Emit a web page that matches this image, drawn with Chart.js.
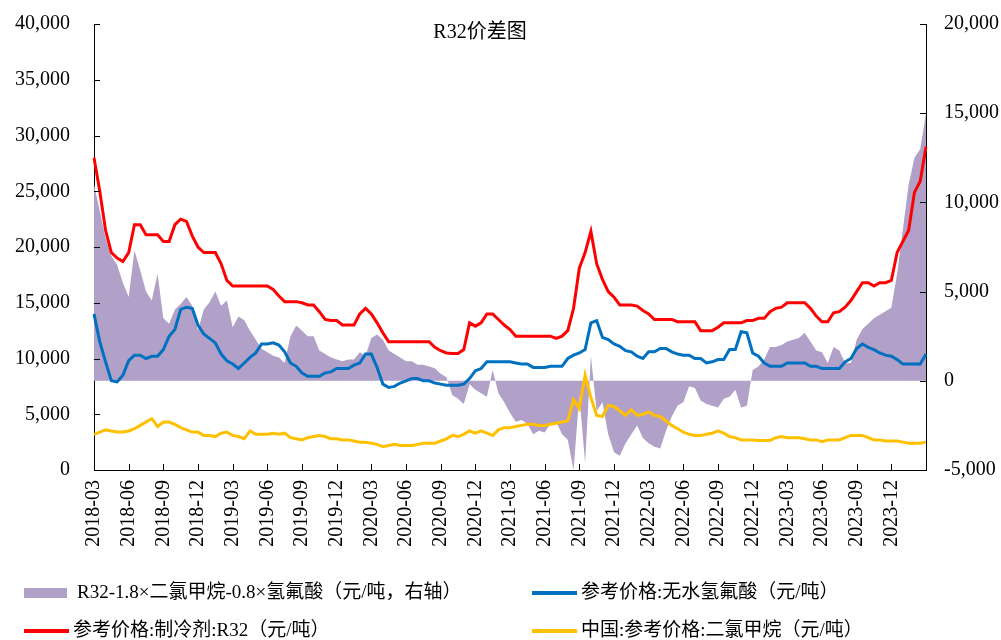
<!DOCTYPE html>
<html>
<head>
<meta charset="utf-8">
<script src="https://cdn.jsdelivr.net/npm/chart.js@4.4.1/dist/chart.umd.min.js"></script>
<style>
  html, body { margin: 0; padding: 0; background: #fff; }
  #wrap { width: 1001px; height: 640px; }
</style>
</head>
<body>
<div id="wrap"><canvas id="grafico" width="1001" height="640"></canvas></div>
<script>
// half-month points from 2018-03 to 2024-03
const startYear = 2018, startMonth = 3, pointCount = 145;
const categorias = [];
for (let i = 0; i < pointCount; i++) {
    const m = startMonth - 1 + Math.floor(i / 2);
    const ano = startYear + Math.floor(m / 12);
    const mes = String(m % 12 + 1).padStart(2, '0');
    categorias.push(`${ano}-${mes}-${i % 2 === 0 ? '01' : '16'}`);
}

const nomes = [
    'R32-1.8×二氯甲烷-0.8×氢氟酸（元/吨，右轴）',
    '参考价格:无水氢氟酸（元/吨）',
    '参考价格:制冷剂:R32（元/吨）',
    '中国:参考价格:二氯甲烷（元/吨）'
];

// spread, right axis
const spread = [
    11000, 9500, 8000, 7000, 6500, 5500, 4700, 7300, 6200, 5000,
    4500, 6000, 3500, 3200, 4000, 4300, 4700, 4200, 2800, 4000,
    4400, 5000, 4200, 4500, 3000, 3600, 3400, 2800, 2300, 1800,
    1600, 1400, 1300, 1000, 2500, 3100, 2800, 2500, 2500, 1700,
    1500, 1300, 1200, 1100, 1200, 1200, 1600, 1400, 2400, 2600,
    2300, 1700, 1500, 1300, 1100, 1100, 900, 900, 800, 700,
    400, 200, -800, -1000, -1300, -200, -500, -700, -900, 600,
    -700, -1200, -1800, -2300, -2200, -2400, -3000, -2800, -2900, -2400,
    -2300, -3000, -3300, -5000, -800, -4600, 1400, -1700, -1200, -3000,
    -4000, -4200, -3500, -3000, -2500, -3200, -3500, -3700, -3800, -2800,
    -2000, -1400, -1200, -300, -400, -1100, -1300, -1400, -1500, -1000,
    -900, -500, -1500, -1400, 600, 800, 1200, 1900, 1900, 2000,
    2200, 2300, 2400, 2700, 2200, 1700, 1600, 1000, 1900, 1700,
    1000, 1000, 2300, 2900, 3200, 3500, 3700, 3900, 4100, 6000,
    8500, 11000, 12500, 13000, 15000
];

const hf = [
    14000, 11500, 9700, 8000, 7900, 8500, 9800, 10300, 10300, 10000,
    10200, 10200, 10800, 12000, 12600, 14400, 14600, 14500, 13000, 12200,
    11800, 11400, 10400, 9800, 9500, 9100, 9600, 10100, 10500, 11300,
    11300, 11400, 11200, 10600, 9600, 9300, 8700, 8400, 8400, 8400,
    8700, 8800, 9100, 9100, 9100, 9400, 9600, 10400, 10400, 9200,
    7700, 7400, 7500, 7800, 8000, 8200, 8200, 8000, 8000, 7800,
    7700, 7600, 7600, 7600, 7700, 8200, 8900, 9100, 9700, 9700,
    9700, 9700, 9700, 9600, 9500, 9500, 9200, 9200, 9200, 9300,
    9300, 9300, 10000, 10300, 10500, 10800, 13200, 13400, 11900, 11700,
    11300, 11100, 10700, 10600, 10200, 10000, 10600, 10600, 10900, 10900,
    10600, 10400, 10300, 10300, 10000, 10000, 9600, 9700, 9900, 9900,
    10800, 10800, 12400, 12300, 10500, 10200, 9600, 9300, 9300, 9300,
    9600, 9600, 9600, 9600, 9300, 9300, 9100, 9100, 9100, 9100,
    9700, 10000, 10900, 11300, 11000, 10800, 10500, 10300, 10200, 9900,
    9500, 9500, 9500, 9500, 10400
];

const r32 = [
    28000, 25000, 21500, 19500, 19000, 18700, 19500, 22000, 22000, 21100,
    21100, 21100, 20500, 20500, 22000, 22500, 22300, 21000, 20000, 19500,
    19500, 19500, 18500, 17000, 16500, 16500, 16500, 16500, 16500, 16500,
    16500, 16200, 15600, 15100, 15100, 15100, 15000, 14800, 14800, 14200,
    13500, 13400, 13400, 13000, 13000, 13000, 14000, 14500, 14000, 13200,
    12300, 11500, 11500, 11500, 11500, 11500, 11500, 11500, 11500, 11000,
    10700, 10500, 10450, 10450, 10800, 13200, 12900, 13200, 14000, 14000,
    13500, 13000, 12600, 12000, 12000, 12000, 12000, 12000, 12000, 12000,
    11800, 12000, 12500, 14500, 18100, 19500, 21400, 18500, 17100, 16000,
    15500, 14800, 14800, 14800, 14700, 14300, 14000, 13500, 13500, 13500,
    13500, 13300, 13300, 13300, 13300, 12500, 12500, 12500, 12800, 13200,
    13200, 13200, 13200, 13400, 13400, 13600, 13600, 14200, 14500, 14600,
    15000, 15000, 15000, 15000, 14500, 13800, 13300, 13300, 14100, 14200,
    14600, 15200, 16000, 16800, 16800, 16500, 16800, 16800, 17000, 19500,
    20500, 21500, 24900, 25900, 29000
];

const dcm = [
    3200, 3400, 3600, 3500, 3400, 3400, 3500, 3700, 4000, 4300,
    4600, 3900, 4300, 4300, 4100, 3800, 3600, 3400, 3400, 3100,
    3100, 3000, 3300, 3400, 3100, 3000, 2800, 3500, 3200, 3200,
    3200, 3300, 3200, 3300, 2900, 2800, 2700, 2900, 3000, 3100,
    3000, 2800, 2800, 2700, 2700, 2600, 2500, 2500, 2400, 2300,
    2100, 2200, 2300, 2200, 2200, 2200, 2300, 2400, 2400, 2400,
    2600, 2800, 3100, 3000, 3200, 3500, 3300, 3500, 3300, 3100,
    3600, 3800, 3800, 3900, 4000, 4100, 4100, 4000, 4000, 4100,
    4200, 4300, 4400, 6300, 5500, 8500, 6500, 4900, 4800, 5800,
    5700, 5300, 4900, 5400, 4900, 5000, 5200, 4900, 4800, 4400,
    4000, 3700, 3400, 3200, 3100, 3100, 3200, 3300, 3500, 3300,
    3000, 2900, 2700, 2700, 2700, 2650, 2650, 2650, 2900, 3000,
    2900, 2900, 2900, 2800, 2700, 2700, 2550, 2700, 2700, 2700,
    2900, 3100, 3100, 3100, 2900, 2700, 2700, 2600, 2600, 2600,
    2500, 2400, 2400, 2400, 2500
];

const leftTicks = { min: 0, max: 40000, step: 5000 };
const rightTicks = { min: -5000, max: 20000, step: 5000 };

const fonte = "'Liberation Serif', 'Noto Sans CJK SC', serif";
Chart.defaults.font.family = fonte;
Chart.defaults.font.size = 20;
Chart.defaults.color = '#000';

const fmt = v => Number(v).toLocaleString('en-US');

// inward tick marks + title + two-column legend
const extras = {
    id: 'extras',
    afterDraw(chart) {
        const { ctx, chartArea: a, scales } = chart;
        ctx.save();
        ctx.strokeStyle = '#000';
        ctx.lineWidth = 1;
        ctx.beginPath();
        scales.y.ticks.forEach((t, i) => {
            const py = Math.round(scales.y.getPixelForTick(i)) + 0.5;
            ctx.moveTo(a.left, py); ctx.lineTo(a.left + 6, py);
        });
        scales.y1.ticks.forEach((t, i) => {
            const py = Math.round(scales.y1.getPixelForTick(i)) + 0.5;
            ctx.moveTo(a.right, py); ctx.lineTo(a.right - 6, py);
        });
        for (let i = 0; i < categorias.length; i += 6) {
            const px = Math.round(scales.x.getPixelForValue(i)) + 0.5;
            ctx.moveTo(px, a.bottom); ctx.lineTo(px, a.bottom - 6);
        }
        ctx.stroke();

        ctx.fillStyle = '#000';
        ctx.font = `20px ${fonte}`;
        ctx.textAlign = 'center';
        ctx.textBaseline = 'middle';
        ctx.fillText('R32价差图', 480, 33);

        const pos = [[24, 593], [532, 593], [24, 631], [532, 631]];
        ctx.font = `19px ${fonte}`;
        ctx.textAlign = 'left';
        chart.data.datasets.forEach((ds, i) => {
            const [lx, ly] = pos[i];
            if (ds.fill) {
                ctx.fillStyle = ds.backgroundColor;
                ctx.fillRect(lx, ly - 5, 43, 10);
            } else {
                ctx.fillStyle = ds.borderColor;
                ctx.fillRect(lx, ly - 2, 45, 4);
            }
            ctx.fillStyle = '#000';
            ctx.fillText(ds.label, lx + (ds.fill ? 53 : 49), ly);
        });
        ctx.restore();
    }
};

new Chart(document.getElementById('grafico'), {
    type: 'line',
    data: {
        labels: categorias,
        datasets: [
            {
                label: nomes[0], data: spread, yAxisID: 'y1',
                fill: 'origin', backgroundColor: '#b1a0c7', borderWidth: 0,
                pointRadius: 0, order: 5
            },
            {
                label: nomes[1], data: hf, yAxisID: 'y',
                borderColor: '#0070c0', borderWidth: 3, pointRadius: 0, fill: false, order: 1
            },
            {
                label: nomes[2], data: r32, yAxisID: 'y',
                borderColor: '#ff0000', borderWidth: 3, pointRadius: 0, fill: false, order: 0
            },
            {
                label: nomes[3], data: dcm, yAxisID: 'y',
                borderColor: '#ffc000', borderWidth: 3, pointRadius: 0, fill: false, order: 2
            }
        ]
    },
    options: {
        responsive: false,
        animation: false,
        layout: { padding: { left: 0, right: 0, top: 24, bottom: 0 } },
        elements: { line: { tension: 0 } },
        plugins: {
            legend: { display: false },
            tooltip: { enabled: false },
            title: { display: false }
        },
        scales: {
            x: {
                offset: false,
                grid: { display: false, drawTicks: false },
                border: { color: '#000', width: 1 },
                afterFit: s => { s.height = 170; },
                ticks: {
                    autoSkip: false,
                    minRotation: 90,
                    maxRotation: 90,
                    padding: 10,
                    callback: (v, i) => (i % 6 === 0 && i < categorias.length - 1) ? categorias[i].slice(0, 7) : ''
                }
            },
            y: {
                position: 'left',
                min: leftTicks.min, max: leftTicks.max,
                grid: { display: false, drawTicks: true, tickLength: 24 },
                border: { color: '#000', width: 1 },
                afterFit: s => { s.width = 94; },
                ticks: { stepSize: leftTicks.step, padding: 0, callback: fmt }
            },
            y1: {
                position: 'right',
                min: rightTicks.min, max: rightTicks.max,
                grid: { display: false, drawTicks: true, tickLength: 18 },
                border: { color: '#000', width: 1 },
                afterFit: s => { s.width = 75; },
                ticks: { stepSize: rightTicks.step, padding: 0, callback: fmt }
            }
        }
    },
    plugins: [extras]
});
</script>
</body>
</html>
